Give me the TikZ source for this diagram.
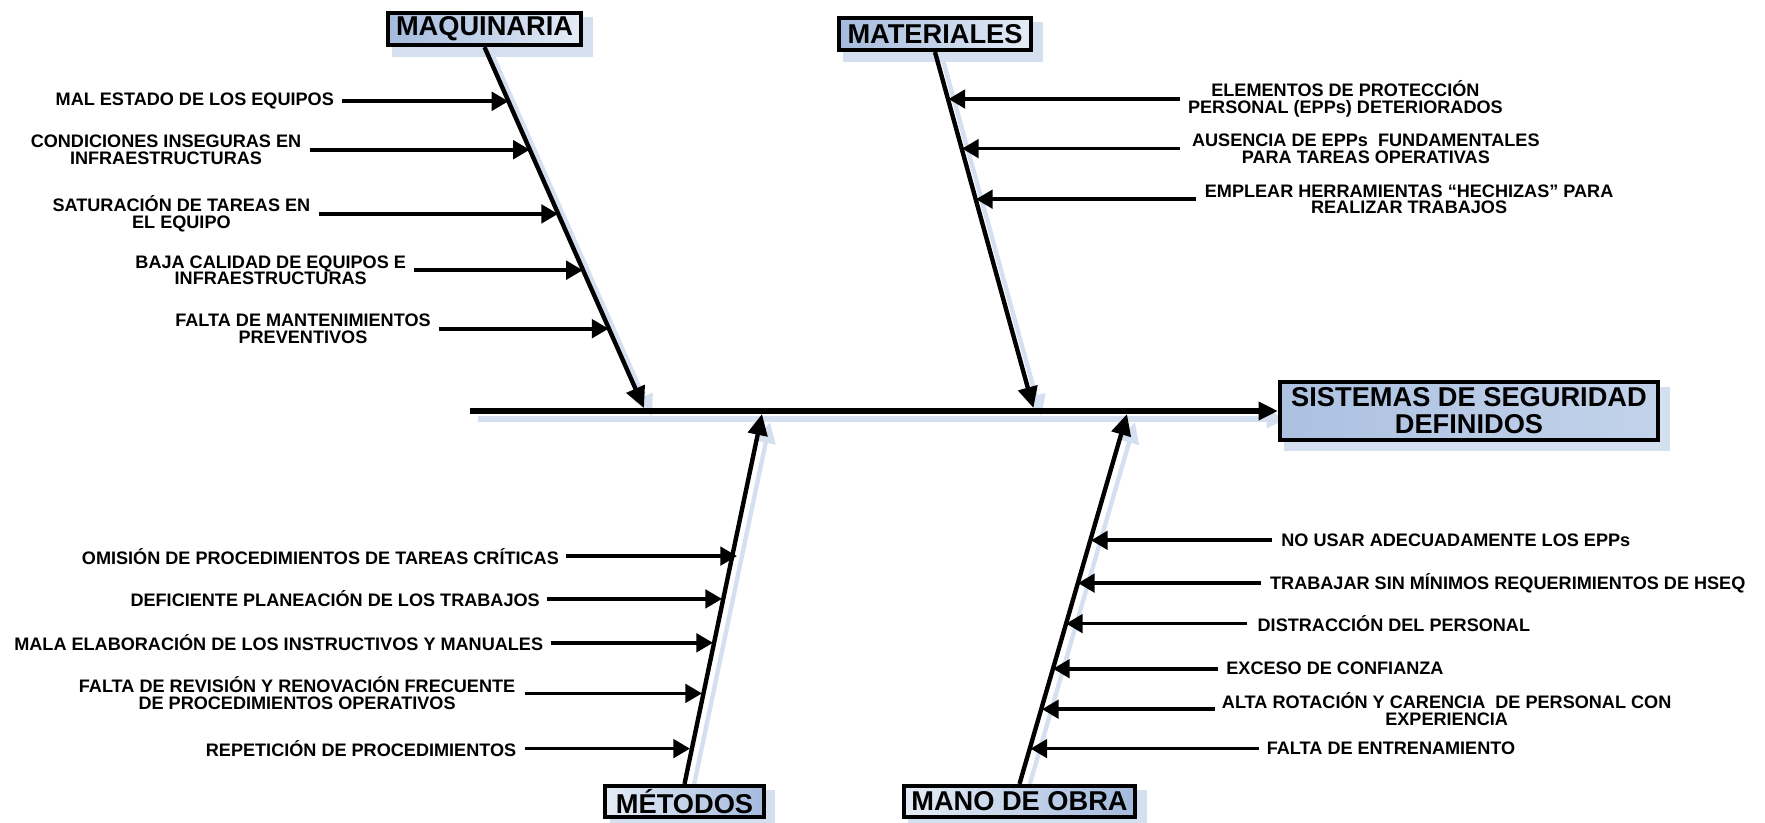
\documentclass[tikz,border=0pt]{standalone}
\usepackage{fontspec}
\setmainfont{Liberation Sans}
\usetikzlibrary{arrows.meta,positioning}
\definecolor{shade}{RGB}{212,223,240}
\definecolor{boxdark}{RGB}{164,186,221}
\definecolor{boxlight}{RGB}{228,236,246}
\definecolor{effdark}{RGB}{172,193,225}
\definecolor{efflight}{RGB}{194,210,234}
\pgfdeclarelayer{bg}
\pgfdeclarelayer{mid}
\pgfsetlayers{bg,mid,main}
\setlength{\lineskiplimit}{-5pt}

\begin{document}
\begin{tikzpicture}[x=0.02cm,y=-0.02cm,
  catbox/.style={draw=black, line width=2.1pt, inner sep=0pt, minimum height=0.65cm,
    font=\fontsize{15.5}{15.4}\selectfont\bfseries},
  topbox/.style={catbox, left color=boxdark, right color=boxlight},
  botbox/.style={catbox, minimum height=0.63cm, left color=boxlight, right color=boxdark},
  effbox/.style={catbox, align=center, minimum width=7.57cm, minimum height=1.15cm,
    left color=effdark, right color=efflight},
  spine/.style={line width=2.9pt, -{Triangle[length=11pt,width=10pt]}},
  bone/.style={line width=2.5pt, -{Triangle[length=12pt,width=11pt]}},
  cause/.style={line width=2.1pt, -{Triangle[length=9.5pt,width=10.5pt]}},
  causetext/.style={inner sep=0pt, align=center,
    font=\fontsize{10.3}{9.6}\selectfont\bfseries},
  shadowed/.style={draw=shade, transform canvas={shift={(8,8)}}},
  boxshadow/.style={fill=shade, draw=shade, line width=2pt, transform canvas={shift={(8,8)}}},
]
\useasboundingbox (0,0) rectangle (1765,822);

% category boxes and effect box
\node[topbox, minimum width=3.87cm] (maq) at (484.5,29) {MAQUINARIA};
\node[topbox, minimum width=3.85cm] (mat) at (935,34) {MATERIALES};
\node[botbox, minimum width=3.17cm] (met) at (684.5,801.5) {MÉTODOS};
\node[botbox, minimum width=4.63cm] (mano) at (1019.5,801.5) {MANO DE OBRA};
\node[effbox] (efecto) at (1469,411) {SISTEMAS DE SEGURIDAD\\DEFINIDOS};

% spine and bone end points
\coordinate (tail) at (470,411);
\coordinate (maqtip) at (644,408);
\coordinate (mattip) at (1033.4,408);
\coordinate (mettip) at (762,414);
\coordinate (manotip) at (1127,414);

% soft blue shadows
\begin{pgfonlayer}{bg}
  \path[boxshadow] (maq.south west) rectangle (maq.north east);
  \path[boxshadow] (mat.south west) rectangle (mat.north east);
  \path[boxshadow] (met.south west) rectangle (met.north east);
  \path[boxshadow] (mano.south west) rectangle (mano.north east);
  \path[boxshadow] (efecto.south west) rectangle (efecto.north east);
  \draw[spine, shadowed] (tail) -- (efecto.west);
  \draw[bone, shadowed] (maq.south) -- (maqtip);
  \draw[bone, shadowed] (mat.south) -- (mattip);
  \draw[bone, shadowed] (met.north) -- (mettip);
  \draw[bone, shadowed] (mano.north) -- (manotip);
\end{pgfonlayer}

% spine and main bones
\begin{pgfonlayer}{mid}
  \draw[spine] (tail) -- (efecto.west);
  \draw[bone] (maq.south) -- (maqtip);
  \draw[bone] (mat.south) -- (mattip);
  \draw[bone] (met.north) -- (mettip);
  \draw[bone] (mano.north) -- (manotip);
\end{pgfonlayer}

% causes: maquinaria
\coordinate (a1) at (342.2,101.3); \coordinate (b1) at (508.4,101.3);
\coordinate (a2) at (309.6,149.7); \coordinate (b2) at (529.8,149.7);
\coordinate (a3) at (318.6,213.9); \coordinate (b3) at (558.0,213.9);
\coordinate (a4) at (414.3,270.2); \coordinate (b4) at (582.8,270.2);
\coordinate (a5) at (439.0,328.7); \coordinate (b5) at (608.6,328.7);
\node[causetext, left=0.16cm of a1] (ca1) {MAL ESTADO DE LOS EQUIPOS};
\node[causetext, left=0.16cm of a2] (ca2) {CONDICIONES INSEGURAS EN\\INFRAESTRUCTURAS};
\node[causetext, left=0.16cm of a3] (ca3) {SATURACIÓN DE TAREAS EN\\EL EQUIPO};
\node[causetext, left=0.16cm of a4] (ca4) {BAJA CALIDAD DE EQUIPOS E\\INFRAESTRUCTURAS};
\node[causetext, left=0.16cm of a5] (ca5) {FALTA DE MANTENIMIENTOS\\PREVENTIVOS};
\foreach \i in {1,...,5} \draw[cause] (a\i) -- (b\i);

% causes: materiales
\coordinate (d1) at (1179.7,99);   \coordinate (e1) at (948.5,99);
\coordinate (d2) at (1179.7,148.6); \coordinate (e2) at (962,148.6);
\coordinate (d3) at (1195.5,199.2); \coordinate (e3) at (976,199.2);
\node[causetext, right=0.16cm of d1] (cd1) {ELEMENTOS DE PROTECCIÓN\\PERSONAL (EPPs) DETERIORADOS};
\node[causetext, right=0.24cm of d2] (cd2) {AUSENCIA DE EPPs\ \ FUNDAMENTALES\\PARA TAREAS OPERATIVAS};
\node[causetext, right=0.18cm of d3] (cd3) {EMPLEAR HERRAMIENTAS “HECHIZAS” PARA\\REALIZAR TRABAJOS};
\foreach \i in {1,...,3} \draw[cause] (d\i) -- (e\i);

% causes: métodos
\coordinate (g1) at (566.2,556.1); \coordinate (h1) at (737,556.1);
\coordinate (g2) at (547.1,598.9); \coordinate (h2) at (722,598.9);
\coordinate (g3) at (550.5,642.8); \coordinate (h3) at (713,642.8);
\coordinate (g4) at (524.6,693.4); \coordinate (h4) at (702,693.4);
\coordinate (g5) at (524.6,748.6); \coordinate (h5) at (690,748.6);
\node[causetext, left=0.14cm of g1] (cg1) {OMISIÓN DE PROCEDIMIENTOS DE TAREAS CRÍTICAS};
\node[causetext, left=0.14cm of g2] (cg2) {DEFICIENTE PLANEACIÓN DE LOS TRABAJOS};
\node[causetext, left=0.14cm of g3] (cg3) {MALA ELABORACIÓN DE LOS INSTRUCTIVOS Y MANUALES};
\node[causetext, left=0.18cm of g4] (cg4) {FALTA DE REVISIÓN Y RENOVACIÓN FRECUENTE\\DE PROCEDIMIENTOS OPERATIVOS};
\node[causetext, left=0.16cm of g5] (cg5) {REPETICIÓN DE PROCEDIMIENTOS};
\foreach \i in {1,...,5} \draw[cause] (g\i) -- (h\i);

% causes: mano de obra
\coordinate (k1) at (1272,540.3);   \coordinate (l1) at (1091,540.3);
\coordinate (k2) at (1260.8,583.1); \coordinate (l2) at (1078,583.1);
\coordinate (k3) at (1247.3,623.6); \coordinate (l3) at (1066,623.6);
\coordinate (k4) at (1218,668.7);   \coordinate (l4) at (1053,668.7);
\coordinate (k5) at (1214.6,709.2); \coordinate (l5) at (1042,709.2);
\coordinate (k6) at (1258.5,748.6); \coordinate (l6) at (1030.5,748.6);
\node[causetext, right=0.18cm of k1] (ck1) {NO USAR ADECUADAMENTE LOS EPPs};
\node[causetext, right=0.18cm of k2] (ck2) {TRABAJAR SIN MÍNIMOS REQUERIMIENTOS DE HSEQ};
\node[causetext, right=0.2cm of k3] (ck3) {DISTRACCIÓN DEL PERSONAL};
\node[causetext, right=0.16cm of k4] (ck4) {EXCESO DE CONFIANZA};
\node[causetext, right=0.14cm of k5] (ck5) {ALTA ROTACIÓN Y CARENCIA\ \ DE PERSONAL CON\\EXPERIENCIA};
\node[causetext, right=0.16cm of k6] (ck6) {FALTA DE ENTRENAMIENTO};
\foreach \i in {1,...,6} \draw[cause] (k\i) -- (l\i);
\end{tikzpicture}
\end{document}
